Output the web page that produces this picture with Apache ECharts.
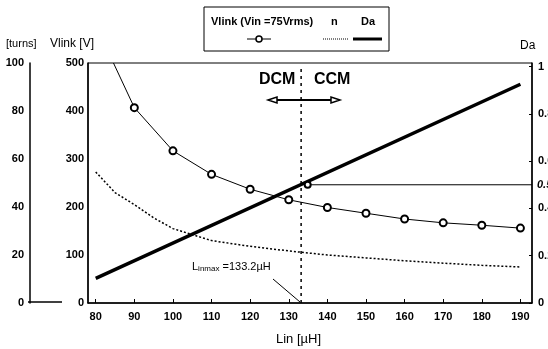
<!DOCTYPE html>
<html>
<head>
<meta charset="utf-8">
<script src="https://cdn.jsdelivr.net/npm/echarts@6/dist/echarts.min.js"></script>
<style>
  html, body { margin: 0; padding: 0; background: #fff; }
  #chart { width: 548px; height: 349px; }
</style>
</head>
<body>
<div id="chart"></div>
<script>
// Lin [uH] ticks
const linTicks = [80, 90, 100, 110, 120, 130, 140, 150, 160, 170, 180, 190];

// Vlink (Vin = 75 Vrms) [V], first point is where the curve enters the plot
const vlinkLin = [84.6, 90, 100, 110, 120, 130, 140, 150, 160, 170, 180, 190];
const vlinkVal = [500, 407, 317, 268, 237, 215, 199, 187, 175, 167, 162, 156];

// n [turns]
const nLin = [80, 85, 90, 95, 100, 110, 120, 130, 140, 150, 160, 170, 180, 190];
const nVal = [54.6, 46, 41, 35.5, 31, 26, 23.6, 21.7, 20, 18.8, 17.6, 16.6, 15.7, 15];

// Da
const daLin = [80, 190];
const daVal = [0.104, 0.925];

// boundary DCM / CCM
const linMax = 133.2;
const daAtLinMax = 0.5;

const chart = echarts.init(document.getElementById('chart'));
const FONT = 'Liberation Sans';

chart.setOption({
  backgroundColor: '#fff',
  animation: false,
  textStyle: { fontFamily: FONT, color: '#000' },
  grid: {
    left: 88, right: 16, top: 63, bottom: 46,
    outerBoundsMode: 'none', containLabel: false,
    show: true, borderColor: '#000', borderWidth: 1, backgroundColor: 'transparent'
  },
  xAxis: {
    type: 'value', min: 78, max: 193,
    axisLine: { lineStyle: { color: '#000', width: 1.5 } },
    axisTick: { inside: true, length: 4, customValues: linTicks, lineStyle: { color: '#000' } },
    axisLabel: { customValues: linTicks, color: '#000', fontWeight: 'bold', fontSize: 11, margin: 8, fontFamily: FONT },
    splitLine: { show: false }
  },
  yAxis: [
    {
      type: 'value', min: 0, max: 100, interval: 20, position: 'left', offset: 58,
      axisLine: { show: true, lineStyle: { color: '#000', width: 1.5 } },
      axisTick: { show: false },
      axisLabel: { color: '#000', fontWeight: 'bold', fontSize: 11, margin: 6, fontFamily: FONT },
      splitLine: { show: false }
    },
    {
      type: 'value', min: 0, max: 500, interval: 100, position: 'left', offset: 0,
      axisLine: { show: true, lineStyle: { color: '#000', width: 1.5 } },
      axisTick: { show: false },
      axisLabel: { color: '#000', fontWeight: 'bold', fontSize: 11, margin: 4, fontFamily: FONT },
      splitLine: { show: false }
    },
    {
      type: 'value', min: 0, max: 1.015, interval: 0.2, position: 'right',
      axisLine: { show: true, lineStyle: { color: '#000', width: 1.5 } },
      axisTick: { show: true, inside: true, length: 3, lineStyle: { color: '#000' } },
      axisLabel: { color: '#000', fontWeight: 'bold', fontSize: 11, margin: 6, fontFamily: FONT },
      splitLine: { show: false }
    }
  ],
  series: [
    {
      name: 'Vlink', type: 'line', yAxisIndex: 1,
      data: vlinkLin.map((x, i) => ({
        value: [x, vlinkVal[i]],
        symbol: i === 0 ? 'none' : 'emptyCircle'
      })),
      symbolSize: 7,
      itemStyle: { color: '#000', borderColor: '#000', borderWidth: 2 },
      lineStyle: { color: '#000', width: 1 }
    },
    {
      name: 'n', type: 'line', yAxisIndex: 0, symbol: 'none',
      data: nLin.map((x, i) => [x, nVal[i]]),
      lineStyle: { color: '#000', width: 1.5, type: [2, 2] }
    },
    {
      name: 'Da', type: 'line', yAxisIndex: 2, symbol: 'none',
      data: daLin.map((x, i) => [x, daVal[i]]),
      lineStyle: { color: '#000', width: 3.5 }
    },
    {
      name: 'boundary', type: 'line', yAxisIndex: 1, symbol: 'none',
      data: [[linMax, 0], [linMax, 490]],
      lineStyle: { color: '#000', width: 1.5, type: [3, 4] }
    },
    {
      name: 'DaLevel', type: 'line', yAxisIndex: 2,
      data: [
        { value: [linMax + 1.7, daAtLinMax], symbol: 'emptyCircle' },
        { value: [193, daAtLinMax], symbol: 'none' }
      ],
      symbolSize: 6,
      itemStyle: { color: '#000', borderColor: '#000', borderWidth: 1.5 },
      lineStyle: { color: '#000', width: 1 },
      endLabel: {
        show: true, formatter: '0.5', fontStyle: 'italic', fontWeight: 'bold',
        fontSize: 11, color: '#000', distance: 5, fontFamily: FONT
      }
    }
  ],
  graphic: [
    // axis titles
    { type: 'text', left: 6, top: 38, style: { text: '[turns]', font: '11px ' + FONT, fill: '#000' } },
    { type: 'text', left: 50, top: 38, style: { text: 'Vlink [V]', font: '12px ' + FONT, fill: '#000' } },
    { type: 'text', left: 520, top: 40, style: { text: 'Da', font: '12px ' + FONT, fill: '#000' } },
    { type: 'text', left: 276, top: 333, style: { text: 'Lin [\u00b5H]', font: '13px ' + FONT, fill: '#000' } },
    // base line under turns axis
    { type: 'line', shape: { x1: 28, y1: 302, x2: 62, y2: 302 }, style: { stroke: '#000', lineWidth: 1.5 } },
    // legend box
    { type: 'rect', shape: { x: 204, y: 7, width: 185, height: 44 }, style: { fill: '#fff', stroke: '#000', lineWidth: 1 } },
    { type: 'text', left: 211, top: 16, style: { text: 'Vlink (Vin =75Vrms)', font: 'bold 11px ' + FONT, fill: '#000' } },
    { type: 'text', left: 331, top: 16, style: { text: 'n', font: 'bold 11px ' + FONT, fill: '#000' } },
    { type: 'text', left: 361, top: 16, style: { text: 'Da', font: 'bold 11px ' + FONT, fill: '#000' } },
    { type: 'line', shape: { x1: 247, y1: 39, x2: 271, y2: 39 }, style: { stroke: '#000', lineWidth: 1 } },
    { type: 'circle', shape: { cx: 259, cy: 39, r: 3 }, style: { fill: '#fff', stroke: '#000', lineWidth: 1.5 } },
    { type: 'line', shape: { x1: 323, y1: 39, x2: 348, y2: 39 }, style: { stroke: '#000', lineWidth: 1, lineDash: [1, 1] } },
    { type: 'line', shape: { x1: 353, y1: 39, x2: 382, y2: 39 }, style: { stroke: '#000', lineWidth: 3 } },
    // DCM / CCM
    { type: 'text', left: 259, top: 72, style: { text: 'DCM', font: 'bold 16px ' + FONT, fill: '#000' } },
    { type: 'text', left: 314, top: 72, style: { text: 'CCM', font: 'bold 16px ' + FONT, fill: '#000' } },
    { type: 'line', shape: { x1: 272, y1: 100, x2: 336, y2: 100 }, style: { stroke: '#000', lineWidth: 2 } },
    { type: 'polygon', shape: { points: [[268, 100], [277, 97], [277, 103]] }, style: { fill: '#fff', stroke: '#000', lineWidth: 1.5 } },
    { type: 'polygon', shape: { points: [[340, 100], [331, 97], [331, 103]] }, style: { fill: '#fff', stroke: '#000', lineWidth: 1.5 } },
    // Linmax annotation
    {
      type: 'text', left: 192, top: 261,
      style: {
        text: '{a|L}{s|inmax}{a| =133.2\u00b5H}',
        rich: {
          a: { font: '11px ' + FONT, fill: '#000' },
          s: { font: '8px ' + FONT, fill: '#000', padding: [4, 0, 0, 0] }
        }
      }
    },
    { type: 'line', shape: { x1: 273, y1: 279, x2: 300, y2: 302 }, style: { stroke: '#000', lineWidth: 1 } }
  ]
});

window.addEventListener('resize', function () {
  chart.resize();
});
</script>
</body>
</html>
